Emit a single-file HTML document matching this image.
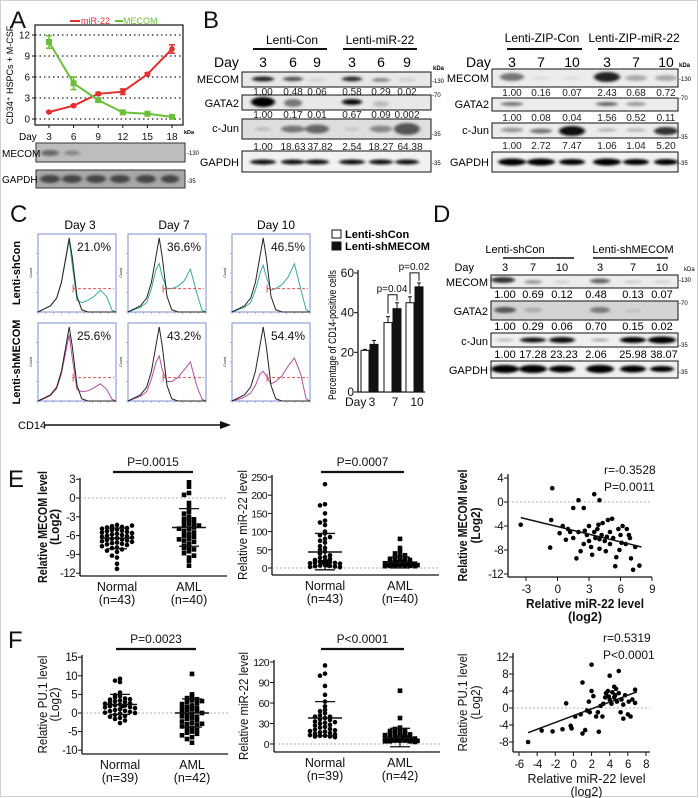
<!DOCTYPE html>
<html><head><meta charset="utf-8">
<style>
html,body{margin:0;padding:0;background:#fff;}
svg{display:block;font-family:"Liberation Sans",Arial,sans-serif;}
.val{font-size:10px;fill:#222;}
.pl{font-size:24px;fill:#111;}
</style></head>
<body>
<svg id="fig" width="699" height="798" viewBox="0 0 699 798" xmlns="http://www.w3.org/2000/svg">
<defs>
<filter id="bl" x="-30%" y="-100%" width="160%" height="300%"><feGaussianBlur stdDeviation="1.6 1.2"/></filter>
</defs>
<rect x="0.5" y="0.5" width="697" height="796" fill="#fff" stroke="#d0d0d0"/>

<text class="pl" x="10" y="28">A</text>
<text class="pl" x="203" y="28">B</text>
<text class="pl" x="10" y="222">C</text>
<text class="pl" x="433" y="222">D</text>
<text class="pl" x="8" y="487">E</text>
<text class="pl" x="8" y="648">F</text>

<g>
<line x1="70" y1="21" x2="80" y2="21" stroke="#e03030" stroke-width="2"/>
<text x="81" y="24" font-size="9" fill="#e03030">miR-22</text>
<line x1="115" y1="21" x2="123" y2="21" stroke="#6cbf3a" stroke-width="2"/>
<text x="123" y="24" font-size="9" fill="#6cbf3a">MECOM</text>
<rect x="35" y="25" width="148" height="100" fill="none" stroke="#111" stroke-width="1.2"/>
<text x="13" y="75" font-size="9" text-anchor="middle" transform="rotate(-90 13 75)">CD34⁺ HSPCs + M-CSF</text>
<text x="19" y="140" font-size="10">Day</text>
<text x="184" y="134" font-size="5.5" font-weight="bold">kDa</text>
<rect x="36" y="143" width="149" height="19" fill="#bdbdbd" stroke="#333"/>
<ellipse cx="50" cy="153" rx="9" ry="3" fill="#666" filter="url(#bl)"/>
<ellipse cx="72" cy="153" rx="8" ry="2.5" fill="#888" filter="url(#bl)"/>
<text x="2" y="157" font-size="10">MECOM</text>
<text x="187" y="155" font-size="6">-130</text>
<rect x="36" y="170" width="149" height="18" fill="#a8a8a8" stroke="#333"/>
<g filter="url(#bl)" fill="#444"><ellipse cx="50" cy="179" rx="10" ry="4"/><ellipse cx="72" cy="179" rx="10" ry="4"/><ellipse cx="96" cy="179" rx="10" ry="4"/><ellipse cx="120" cy="179" rx="10" ry="4"/><ellipse cx="146" cy="179" rx="10" ry="4"/><ellipse cx="170" cy="179" rx="9" ry="4"/></g>
<text x="2" y="183" font-size="10">GAPDH</text>
<text x="187" y="183" font-size="6">-35</text>
</g>

<g font-size="11">
<text x="292" y="44" text-anchor="middle" font-size="12">Lenti-Con</text>
<line x1="253" y1="49" x2="327" y2="49" stroke="#111" stroke-width="2"/>
<text x="380" y="44" text-anchor="middle" font-size="12">Lenti-miR-22</text>
<line x1="343" y1="49" x2="417" y2="49" stroke="#111" stroke-width="2"/>
<text x="214" y="67" font-size="14">Day</text>
<g font-size="14" text-anchor="middle"><text x="263" y="67">3</text><text x="293" y="67">6</text><text x="317" y="67">9</text><text x="352" y="67">3</text><text x="381" y="67">6</text><text x="407" y="67">9</text></g>
<g text-anchor="end" font-size="11"><text x="239" y="83">MECOM</text><text x="239" y="107">GATA2</text><text x="239" y="132">c-Jun</text><text x="239" y="166">GAPDH</text></g>
<rect x="242" y="72" width="189" height="15" fill="#e8e8e8" stroke="#111"/>
<g filter="url(#bl)"><ellipse cx="263" cy="79" rx="11" ry="2.5" fill="#222"/><ellipse cx="293" cy="79" rx="10" ry="2.3" fill="#555"/><ellipse cx="317" cy="80" rx="9" ry="2" fill="#d5d5d5"/><ellipse cx="352" cy="79" rx="10" ry="2.5" fill="#333"/><ellipse cx="381" cy="80" rx="9" ry="2" fill="#888"/><ellipse cx="407" cy="80" rx="9" ry="2" fill="#d0d0d0"/></g>
<g class="val" text-anchor="middle"><text x="263" y="95">1.00</text><text x="293" y="95">0.48</text><text x="317" y="95">0.06</text><text x="352" y="95">0.58</text><text x="381" y="95">0.29</text><text x="407" y="95">0.02</text></g>
<rect x="242" y="95" width="189" height="15" fill="#e8e8e8" stroke="#111"/>
<g filter="url(#bl)"><ellipse cx="263" cy="102" rx="12" ry="5" fill="#000"/><ellipse cx="293" cy="103" rx="9" ry="4" fill="#777"/><ellipse cx="352" cy="102" rx="10" ry="3" fill="#111"/><ellipse cx="381" cy="104" rx="8" ry="3" fill="#bbb"/></g>
<g class="val" text-anchor="middle"><text x="263" y="118">1.00</text><text x="293" y="118">0.17</text><text x="317" y="118">0.01</text><text x="352" y="118">0.67</text><text x="381" y="118">0.09</text><text x="407" y="118">0.002</text></g>
<rect x="242" y="119" width="189" height="20" fill="#dedede" stroke="#111"/>
<g filter="url(#bl)"><ellipse cx="263" cy="129" rx="8" ry="2" fill="#bbb"/><ellipse cx="293" cy="129" rx="12" ry="3.5" fill="#777"/><ellipse cx="317" cy="129" rx="12" ry="4.5" fill="#666"/><ellipse cx="352" cy="129" rx="8" ry="2" fill="#c8c8c8"/><ellipse cx="381" cy="129" rx="11" ry="3.5" fill="#888"/><ellipse cx="407" cy="129" rx="13" ry="6" fill="#555"/></g>
<g class="val" text-anchor="middle"><text x="263" y="150">1.00</text><text x="293" y="150">18.63</text><text x="320" y="150">37.82</text><text x="352" y="150">2.54</text><text x="381" y="150">18.27</text><text x="410" y="150">64.38</text></g>
<rect x="242" y="151" width="189" height="21" fill="#f2f2f2" stroke="#111"/>
<g filter="url(#bl)" fill="#111"><ellipse cx="263" cy="162" rx="13" ry="2.5"/><ellipse cx="293" cy="162" rx="12" ry="2.5"/><ellipse cx="317" cy="162" rx="12" ry="2.5"/><ellipse cx="352" cy="162" rx="13" ry="2.5"/><ellipse cx="381" cy="162" rx="12" ry="2.5"/><ellipse cx="407" cy="162" rx="12" ry="2.5"/></g>
<g font-size="6"><text x="433" y="70" font-weight="bold">kDa</text><text x="432" y="83">-130</text><text x="432" y="97">-70</text><text x="432" y="136">-35</text><text x="432" y="165">-35</text></g>

<text x="542" y="42" text-anchor="middle" font-size="12">Lenti-ZIP-Con</text>
<line x1="507" y1="49" x2="582" y2="49" stroke="#111" stroke-width="2"/>
<text x="634" y="42" text-anchor="middle" font-size="12">Lenti-ZIP-miR-22</text>
<line x1="598" y1="49" x2="672" y2="49" stroke="#111" stroke-width="2"/>
<text x="466" y="67" font-size="14">Day</text>
<g font-size="14" text-anchor="middle"><text x="512" y="67">3</text><text x="541" y="67">7</text><text x="572" y="67">10</text><text x="607" y="67">3</text><text x="636" y="67">7</text><text x="666" y="67">10</text></g>
<g text-anchor="end" font-size="11"><text x="489" y="82">MECOM</text><text x="489" y="108">GATA2</text><text x="489" y="134">c-Jun</text><text x="489" y="166">GAPDH</text></g>
<rect x="492" y="69" width="186" height="18" fill="#ececec" stroke="#111"/>
<g filter="url(#bl)"><ellipse cx="512" cy="77" rx="12" ry="4" fill="#777"/><ellipse cx="541" cy="78" rx="9" ry="2" fill="#ddd"/><ellipse cx="572" cy="78" rx="9" ry="2" fill="#ddd"/><ellipse cx="607" cy="77" rx="13" ry="5" fill="#222"/><ellipse cx="636" cy="78" rx="11" ry="3" fill="#aaa"/><ellipse cx="666" cy="78" rx="11" ry="3" fill="#aaa"/></g>
<g class="val" text-anchor="middle"><text x="512" y="96">1.00</text><text x="541" y="96">0.16</text><text x="572" y="96">0.07</text><text x="607" y="96">2.43</text><text x="636" y="96">0.68</text><text x="666" y="96">0.72</text></g>
<rect x="492" y="98" width="186" height="13" fill="#ececec" stroke="#111"/>
<g filter="url(#bl)"><ellipse cx="512" cy="104" rx="11" ry="2" fill="#777"/><ellipse cx="607" cy="104" rx="11" ry="2" fill="#666"/><ellipse cx="636" cy="104" rx="10" ry="2" fill="#999"/></g>
<g class="val" text-anchor="middle"><text x="512" y="121">1.00</text><text x="541" y="121">0.08</text><text x="572" y="121">0.04</text><text x="607" y="121">1.56</text><text x="636" y="121">0.52</text><text x="666" y="121">0.11</text></g>
<rect x="492" y="123" width="186" height="15" fill="#ececec" stroke="#111"/>
<g filter="url(#bl)"><ellipse cx="512" cy="130" rx="11" ry="2.5" fill="#999"/><ellipse cx="541" cy="131" rx="11" ry="2.5" fill="#777"/><ellipse cx="572" cy="131" rx="13" ry="5" fill="#111"/><ellipse cx="607" cy="130" rx="10" ry="2" fill="#bbb"/><ellipse cx="636" cy="130" rx="10" ry="2" fill="#bbb"/><ellipse cx="666" cy="131" rx="12" ry="4" fill="#333"/></g>
<g class="val" text-anchor="middle"><text x="512" y="149">1.00</text><text x="541" y="149">2.72</text><text x="572" y="149">7.47</text><text x="607" y="149">1.06</text><text x="636" y="149">1.04</text><text x="666" y="149">5.20</text></g>
<rect x="492" y="152" width="186" height="20" fill="#f2f2f2" stroke="#111"/>
<g filter="url(#bl)" fill="#000"><ellipse cx="512" cy="162" rx="14" ry="3.5"/><ellipse cx="541" cy="162" rx="14" ry="3.5"/><ellipse cx="572" cy="162" rx="13" ry="3"/><ellipse cx="607" cy="162" rx="14" ry="3.5"/><ellipse cx="636" cy="162" rx="13" ry="3"/><ellipse cx="666" cy="162" rx="12" ry="3"/></g>
<g font-size="6"><text x="679" y="67" font-weight="bold">kDa</text><text x="679" y="81">-130</text><text x="679" y="100">-70</text><text x="679" y="139">-35</text><text x="679" y="165">-35</text></g>
</g>

<g>
<g font-size="12" text-anchor="middle"><text x="80" y="229">Day 3</text><text x="174" y="229">Day 7</text><text x="276" y="229">Day 10</text></g>
<text x="20" y="273" font-size="11" font-weight="bold" text-anchor="middle" transform="rotate(-90 20 273)">Lenti-shCon</text>
<text x="20" y="362" font-size="11" font-weight="bold" text-anchor="middle" transform="rotate(-90 20 362)">Lenti-shMECOM</text>
<text x="18" y="429" font-size="11">CD14</text>
<line x1="44" y1="425" x2="222" y2="425" stroke="#111" stroke-width="1.5"/>
<polygon points="220,421 231,425 220,429" fill="#111"/>
<rect x="332" y="230" width="9" height="8" fill="#fff" stroke="#111"/>
<text x="345" y="238" font-size="11" font-weight="bold">Lenti-shCon</text>
<rect x="332" y="242" width="9" height="8" fill="#111" stroke="#111"/>
<text x="345" y="250" font-size="11" font-weight="bold">Lenti-shMECOM</text>
<text x="336" y="335" font-size="11" text-anchor="middle" textLength="130" lengthAdjust="spacingAndGlyphs" transform="rotate(-90 336 335)">Percentage of CD14-positive cells</text>
</g>

<g>
<text x="515" y="253" text-anchor="middle" font-size="11">Lenti-shCon</text>
<line x1="503" y1="258" x2="574" y2="258" stroke="#111" stroke-width="1.6"/>
<text x="633" y="253" text-anchor="middle" font-size="11">Lenti-shMECOM</text>
<line x1="593" y1="258" x2="668" y2="258" stroke="#111" stroke-width="1.6"/>
<text x="474" y="271" font-size="11" text-anchor="end">Day</text>
<g font-size="11" text-anchor="middle"><text x="505" y="271">3</text><text x="533" y="271">7</text><text x="562" y="271">10</text><text x="600" y="271">3</text><text x="633" y="271">7</text><text x="662" y="271">10</text></g>
<g text-anchor="end" font-size="11"><text x="488" y="286">MECOM</text><text x="488" y="315">GATA2</text><text x="488" y="345">c-Jun</text><text x="488" y="374">GAPDH</text></g>
<rect x="491" y="275" width="187" height="13" fill="#ececec" stroke="#111"/>
<g filter="url(#bl)"><ellipse cx="503" cy="280" rx="12" ry="3" fill="#333"/><ellipse cx="533" cy="282" rx="9" ry="2" fill="#999"/><ellipse cx="562" cy="282" rx="8" ry="1.5" fill="#ccc"/><ellipse cx="600" cy="281" rx="10" ry="2.5" fill="#666"/><ellipse cx="633" cy="282" rx="9" ry="1.5" fill="#ccc"/><ellipse cx="662" cy="282" rx="9" ry="1.5" fill="#d0d0d0"/></g>
<g font-size="11" text-anchor="middle"><text x="505" y="298">1.00</text><text x="533" y="298">0.69</text><text x="562" y="298">0.12</text><text x="596" y="298">0.48</text><text x="633" y="298">0.13</text><text x="662" y="298">0.07</text></g>
<rect x="491" y="301" width="187" height="19" fill="#d4d4d4" stroke="#111"/>
<g filter="url(#bl)"><ellipse cx="505" cy="310" rx="11" ry="3" fill="#555"/><ellipse cx="533" cy="310" rx="9" ry="2.5" fill="#aaa"/><ellipse cx="600" cy="310" rx="10" ry="3" fill="#777"/><ellipse cx="633" cy="311" rx="8" ry="2" fill="#c0c0c0"/></g>
<g font-size="11" text-anchor="middle"><text x="505" y="330">1.00</text><text x="533" y="330">0.29</text><text x="562" y="330">0.06</text><text x="596" y="330">0.70</text><text x="633" y="330">0.15</text><text x="662" y="330">0.02</text></g>
<rect x="491" y="333" width="187" height="14" fill="#f0f0f0" stroke="#111"/>
<g filter="url(#bl)"><ellipse cx="505" cy="340" rx="9" ry="1.5" fill="#bbb"/><ellipse cx="533" cy="340" rx="13" ry="2.5" fill="#111"/><ellipse cx="562" cy="340" rx="13" ry="3" fill="#111"/><ellipse cx="600" cy="340" rx="9" ry="1.5" fill="#aaa"/><ellipse cx="633" cy="340" rx="13" ry="3" fill="#000"/><ellipse cx="662" cy="340" rx="14" ry="3.5" fill="#000"/></g>
<g font-size="11" text-anchor="middle"><text x="505" y="358">1.00</text><text x="533" y="358">17.28</text><text x="564" y="358">23.23</text><text x="596" y="358">2.06</text><text x="633" y="358">25.98</text><text x="664" y="358">38.07</text></g>
<rect x="491" y="361" width="187" height="17" fill="#f0f0f0" stroke="#111"/>
<g filter="url(#bl)" fill="#000"><ellipse cx="505" cy="369" rx="14" ry="4"/><ellipse cx="533" cy="369" rx="14" ry="4"/><ellipse cx="562" cy="369" rx="13" ry="3.5"/><ellipse cx="600" cy="369" rx="14" ry="4"/><ellipse cx="633" cy="369" rx="13" ry="3.5"/><ellipse cx="662" cy="369" rx="12" ry="3"/></g>
<g font-size="6"><text x="684" y="271">kDa</text><text x="679" y="282">-130</text><text x="679" y="305">-70</text><text x="679" y="347">-35</text><text x="679" y="374">-35</text></g>
</g>
</svg>

<script>
// ===== Panel A data =====
const aDays = [3, 6, 9, 12, 15, 18];
const aMir22 = [1.0, 1.9, 3.6, 3.9, 6.4, 10.0];
const aMir22Err = [0.1, 0.15, 0.2, 0.4, 0.2, 0.6];
const aMecom = [11.0, 5.1, 2.7, 0.95, 0.75, 0.3];
const aMecomErr = [0.9, 0.9, 0.2, 0.1, 0.1, 0.1];
const aYTicks = [0, 3, 6, 9, 12];

// ===== Panel C bar data =====
const cDays = ['3', '7', '10'];
const cCon = [21, 35, 45];
const cConErr = [0.5, 3, 3];
const cSh = [24, 42, 53];
const cShErr = [2, 3, 2];
const cYTicks = [0, 20, 40, 60];
const cPvals = ['p=0.04', 'p=0.02'];

// ===== Panel C histogram data =====
const histX = [0,0.08,0.16,0.24,0.3,0.36,0.4,0.44,0.5,0.56,0.64,0.72,0.8,0.88,0.95,1];
const histCtrl = [0,0.04,0.08,0.18,0.38,0.72,0.95,0.7,0.2,0.03,0,0,0,0,0,0];
const histCon1 = [0,0.04,0.08,0.18,0.38,0.7,0.92,0.6,0.15,0.12,0.15,0.2,0.28,0.2,0.02,0];
const histCon2 = [0,0.03,0.06,0.12,0.3,0.55,0.62,0.45,0.3,0.3,0.33,0.4,0.55,0.25,0.02,0];
const histCon3 = [0,0.03,0.06,0.12,0.28,0.5,0.6,0.45,0.28,0.3,0.35,0.45,0.62,0.3,0.03,0];
const histSh1 = [0,0.03,0.07,0.16,0.35,0.65,0.85,0.55,0.15,0.12,0.13,0.17,0.22,0.15,0.02,0];
const histSh2 = [0,0.03,0.06,0.12,0.28,0.5,0.58,0.4,0.25,0.25,0.3,0.4,0.5,0.2,0.02,0];
const histSh3 = [0,0.02,0.05,0.1,0.2,0.35,0.38,0.32,0.22,0.25,0.32,0.45,0.55,0.35,0.03,0];
const histPct = ['21.0%','36.6%','46.5%','25.6%','43.2%','54.4%'];

// ===== Panel E data =====
const e1Cats = ['Normal', 'AML'];
const e1N = ['(n=43)', '(n=40)'];
const e1Normal = [-4.3,-4.5,-4.6,-4.7,-4.8,-4.9,-5.0,-5.1,-5.2,-5.3,-5.4,-5.5,-5.6,-5.7,-5.8,-5.9,-6.0,-6.1,-6.2,-6.3,-6.4,-6.5,-6.6,-6.7,-6.8,-6.9,-7.0,-7.1,-7.2,-7.3,-7.4,-7.5,-7.7,-7.9,-8.0,-8.2,-8.4,-8.6,-9.2,-9.5,-4.4,-10.5,-11.3];
const e1AML = [2.5,1.8,0.8,0.5,-0.8,-1.5,-2.2,-2.5,-3.0,-3.3,-3.5,-3.8,-4.0,-4.2,-4.5,-4.7,-4.9,-5.0,-5.3,-5.5,-5.8,-6.0,-6.2,-6.5,-6.8,-7.0,-7.3,-7.6,-7.8,-8.0,-8.2,-8.5,-8.8,-9.2,-9.5,-10.0,-10.8,-4.4,-3.4,-6.6];
const e1Mean = [-6.4, -4.7];
const e1Hi = [-4.8, -1.7];
const e1Lo = [-8.1, -7.7];
const e1Ticks = [3, 0, -3, -6, -9, -12];

const e2Normal = [230,175,172,150,130,125,118,100,95,90,85,80,75,70,60,55,50,45,40,35,30,28,25,22,20,18,17,15,14,13,12,11,10,9,8,7,6,5,4,3,2,1,0.5];
const e2AML = [80,55,45,40,35,32,30,28,25,22,20,18,16,15,14,13,12,11,10,9,8,7,7,6,6,5,5,4,4,3,3,2,2,2,1,1,1,0.5,0.5,0.3];
const e2Mean = [44, 15];
const e2Hi = [95, 30];
const e2Lo = [-5, 0];
const e2Ticks = [0, 50, 100, 150, 200, 250];

const e3X = [-3.5,-0.5,-0.7,-0.6,1.5,2,2.5,3.5,4,0.5,1,1.2,1.5,1.8,2,2.2,2.5,2.8,3,3,3.2,3.3,3.5,3.6,3.8,4,4,4.2,4.3,4.5,4.6,4.8,5,5,5.2,5.3,5.5,5.6,5.8,6,6.1,6.2,6.5,6.8,7,7.2,7.4,7.8,6.6,0.2,0.8,2.6,3.9,4.7,5.9,6.9];
const e3Y = [-3.8,2.3,-7.6,-3,-1,0.3,-1,1.3,0.3,-4,-4.5,-5,-6,-9.4,-5,-8.2,-7,-5.5,-4,-6.5,-7.5,-8.8,-5,-6,-4.5,-6.2,-7.8,-5.5,-3.5,-6.5,-8.2,-3,-5,-7,-2.8,-6,-10.7,-9.2,-4.5,-5.5,-6.8,-4,-7,-5.5,-9.4,-11.3,-7.5,-10.6,-4.5,-5.2,-6.3,-4.8,-3.8,-5.8,-8,-6];
const e3FitX = [-3.5, 8];
const e3FitY = [-2.6, -7.5];
const e3XTicks = [-3, 0, 3, 6, 9];
const e3YTicks = [4, 0, -4, -8, -12];

// ===== Panel F data =====
const f1N = ['(n=39)', '(n=42)'];
const f1Normal = [9.2,8.7,8.3,5.5,4.8,4.5,4.2,3.9,3.6,3.4,3.2,3,2.8,2.6,2.5,2.3,2.1,2,1.8,1.6,1.5,1.3,1.2,1,0.8,0.6,0.5,0.3,0.1,0,-0.2,-0.5,-0.8,-1,-1.3,-1.6,-2,-2.7,3.7];
const f1AML = [10.5,5,4.5,4,3.7,3.4,3,2.7,2.4,2,1.7,1.4,1,0.8,0.5,0.2,0,-0.3,-0.6,-1,-1.3,-1.6,-2,-2.3,-2.6,-3,-3.3,-3.6,-4,-4.3,-4.6,-5,-5.3,-5.6,-6,-6.5,-7,-8,1.2,-0.9,-2.9,3.2];
const f1Mean = [2.3, 0];
const f1Hi = [5, 3.8];
const f1Lo = [-0.4, -3.8];
const f1Ticks = [15, 10, 5, 0, -5, -10];

const f2Normal = [115,103,100,85,72,62,55,50,48,45,42,40,38,36,35,33,31,30,28,27,25,24,22,21,20,19,18,17,16,15,14,13,12,12,11,11,10,40,32];
const f2AML = [78,38,24,22,20,19,18,17,16,15,14,13,12,11,10,9,9,8,8,7,7,6,6,5,5,5,4,4,4,3,3,3,2,2,2,1,1,1,0.5,0.5,0.3,0.2];
const f2Mean = [38, 9];
const f2Hi = [62, 23];
const f2Lo = [12, -4];
const f2Ticks = [0, 30, 60, 90, 120];

const f3X = [-5,-3.5,-2.3,-1.2,-0.8,-0.3,-0.2,0.2,0.8,1,1,1.3,1.5,1.7,1.8,2,2,2.2,2.5,2.7,2.8,3,3.2,3.3,3.5,3.6,3.8,4,4,4.2,4.3,4.5,4.5,4.7,4.8,5,5,5.2,5.3,5.5,5.7,6,6.1,6.3,6.5,6.8,6.8,4.6,3.9,5.5];
const f3Y = [-8,-5.3,-5.5,-5,1.1,-4.2,-4.8,-2,-1.5,6,-6,-5.2,-0.6,1.5,-1,10.2,4,2.8,-2,-1,-5.6,0.5,-2,1,2.5,3.5,4,7.6,2,1,3.7,5,2.5,4.5,1.5,8.7,3.5,-1,2,-2.5,3,-1.5,1.5,-2,2,4.3,1.2,3,2.7,0.8];
const f3FitX = [-5, 7];
const f3FitY = [-5.8, 3.8];
const f3XTicks = [-6, -4, -2, 0, 2, 4, 6, 8];
const f3YTicks = [12, 8, 4, 0, -4, -8];

const NS = 'http://www.w3.org/2000/svg';
const svg = document.getElementById('fig');
function mk(tag, attrs, parent) {
  const e = document.createElementNS(NS, tag);
  for (const k in attrs) e.setAttribute(k, attrs[k]);
  (parent || svg).appendChild(e);
  return e;
}
function txt(x, y, s, size, anchor, parent, extra) {
  const t = mk('text', Object.assign({x: x, y: y, 'font-size': size, 'text-anchor': anchor || 'start', fill: '#111'}, extra || {}), parent);
  t.textContent = s;
  return t;
}

// ===== Panel A chart =====
(function(){
  const ax = d => 49 + (d - 3) * (123 / 15);
  const ay = v => 119 - v * 7;
  const g = mk('g', {});
  
  
  aYTicks.forEach(v => {
    const gl = mk('line', {x1: 35, x2: 183, y1: ay(v), y2: ay(v), stroke: '#222', 'stroke-dasharray': '1.5 3', 'stroke-width': 1.2}, g);
    
    
    mk('line', {x1: 32, x2: 35, y1: ay(v), y2: ay(v), stroke: '#111'}, g);
    const t = txt(30, ay(v) + 3.5, String(v), 10, 'end', g);
    
    
  });
  aDays.forEach(d => {
    mk('line', {x1: ax(d), x2: ax(d), y1: 125, y2: 128, stroke: '#111'}, g);
    const t = txt(ax(d), 140, String(d), 10, 'middle', g);
    
    
  });
  [[aMir22, aMir22Err, '#e03030', 'mir22'], [aMecom, aMecomErr, '#6cbf3a', 'mecom']].forEach(s => {
    const pts = aDays.map((d, i) => ax(d) + ',' + ay(s[0][i])).join(' ');
    const pl = mk('polyline', {points: pts, fill: 'none', stroke: s[2], 'stroke-width': 2}, g);
    
    
    aDays.forEach((d, i) => {
      const x = ax(d), v = s[0][i], e = s[1][i];
      mk('line', {x1: x, x2: x, y1: ay(v - e), y2: ay(v + e), stroke: s[2], 'stroke-width': 1.5}, g);
      mk('line', {x1: x - 3, x2: x + 3, y1: ay(v + e), y2: ay(v + e), stroke: s[2], 'stroke-width': 1.5}, g);
      mk('line', {x1: x - 3, x2: x + 3, y1: ay(v - e), y2: ay(v - e), stroke: s[2], 'stroke-width': 1.5}, g);
      const m = s[3] === 'mir22' ? mk('circle', {cx: x, cy: ay(v), r: 2.8, fill: s[2]}, g) : mk('rect', {x: x - 3, y: ay(v) - 3, width: 6, height: 6, fill: s[2]}, g);
      
      
    });
  });
})();

// ===== Panel C histograms =====
(function(){
  const cols = [38, 128, 232], rows = [234, 323], W = 78, H = 78;
  const sets = [[histCon1, histCon2, histCon3], [histSh1, histSh2, histSh3]];
  const colors = ['#3aa89a', '#b0509a'];
  rows.forEach((ry, r) => cols.forEach((cx, c) => {
    const g = mk('g', {});
    
    
    mk('rect', {x: cx, y: ry, width: W, height: H, fill: '#fff', stroke: '#7f8fd0', 'stroke-width': 1}, g);
    for (let k = 0; k <= 10; k++) {
      mk('line', {x1: cx + k * W / 10, x2: cx + k * W / 10, y1: ry + H, y2: ry + H + 2, stroke: '#7f8fd0', 'stroke-width': 0.6}, g);
    }
    [0, 0.25, 0.5, 0.75].forEach(f => mk('line', {x1: cx - 2, x2: cx, y1: ry + H - f * H, y2: ry + H - f * H, stroke: '#7f8fd0', 'stroke-width': 0.6}, g));
    txt(cx - 6, ry + H / 2, 'Count', 3.5, 'middle', g, {transform: 'rotate(-90 ' + (cx - 6) + ' ' + (ry + H / 2) + ')'});
    const path = arr => histX.map((f, i) => (i ? 'L' : 'M') + (cx + f * W).toFixed(1) + ' ' + (ry + H - arr[i] * H).toFixed(1)).join(' ');
    const p1 = mk('path', {d: path(sets[r][c]), fill: 'none', stroke: colors[r], 'stroke-width': 1}, g);
    
    
    const p0 = mk('path', {d: path(histCtrl), fill: 'none', stroke: '#222', 'stroke-width': 1}, g);
    
    
    const gy = ry + H * 0.7;
    mk('line', {x1: cx + W * 0.45, x2: cx + W - 2, y1: gy, y2: gy, stroke: '#e05050', 'stroke-dasharray': '3 2'}, g);
    mk('line', {x1: cx + W * 0.45, x2: cx + W * 0.45, y1: gy - 4, y2: gy + 4, stroke: '#e05050'}, g);
    const t = txt(cx + W - 5, ry + 17, histPct[r * 3 + c], 12, 'end', g);
    
    
  }));
})();

// ===== Panel C bar chart =====
(function(){
  const by = v => 392 - v * (119 / 60);
  const gx = [369, 392, 414];
  const g = mk('g', {});
  
  
  mk('line', {x1: 358, x2: 358, y1: 270, y2: 392, stroke: '#111', 'stroke-width': 1.3}, g);
  mk('line', {x1: 358, x2: 425, y1: 392, y2: 392, stroke: '#111', 'stroke-width': 1.3}, g);
  cYTicks.forEach(v => {
    mk('line', {x1: 354, x2: 358, y1: by(v), y2: by(v), stroke: '#111'}, g);
    const t = txt(354, by(v) + 4, String(v), 12, 'end', g);
    
    
  });
  txt(345, 406, 'Day', 12, 'start', g);
  cDays.forEach((d, i) => {
    const t = txt(gx[i] + 3, 406, d, 12, 'middle', g);
    
    
    [[cCon, cConErr, '#fff', -8], [cSh, cShErr, '#111', 1]].forEach(s => {
      const x = gx[i] + s[3], v = s[0][i], e = s[1][i];
      mk('line', {x1: x + 4, x2: x + 4, y1: by(v), y2: by(v + e), stroke: '#111'}, g);
      mk('line', {x1: x + 2, x2: x + 6, y1: by(v + e), y2: by(v + e), stroke: '#111'}, g);
      const b = mk('rect', {x: x, y: by(v), width: 8, height: 392 - by(v), fill: s[2], stroke: '#111', 'stroke-width': 1}, g);
      
      
    });
  });
  [[1, 'p=0.04'], [2, 'p=0.02']].forEach((p, k) => {
    const i = p[0];
    const top = by(Math.max(cCon[i] + cConErr[i], cSh[i] + cShErr[i])) - 8 - k * 2;
    mk('polyline', {points: (gx[i] - 4) + ',' + (by(cCon[i] + cConErr[i]) - 3) + ' ' + (gx[i] - 4) + ',' + top + ' ' + (gx[i] + 5) + ',' + top + ' ' + (gx[i] + 5) + ',' + (by(cSh[i] + cShErr[i]) - 2), fill: 'none', stroke: '#111'}, g);
    const t = txt(gx[i], top - 3, cPvals[k], 10, 'middle', g);
    
    
  });
})();

// ===== Dot plots =====
function dotPlot(cfg) {
  const g = mk('g', {});
  
  
  const y = cfg.y;
  mk('line', {x1: cfg.ax, x2: cfg.ax, y1: cfg.top, y2: cfg.bottom, stroke: '#111', 'stroke-width': 1.3}, g);
  mk('line', {x1: cfg.ax, x2: cfg.xEnd, y1: cfg.bottom, y2: cfg.bottom, stroke: '#111', 'stroke-width': 1.3}, g);
  cfg.ticks.forEach(v => {
    mk('line', {x1: cfg.ax - 4, x2: cfg.ax, y1: y(v), y2: y(v), stroke: '#111'}, g);
    const t = txt(cfg.ax - 5, y(v) + 4, String(v), cfg.tf || 11.5, 'end', g, {'letter-spacing': '-0.6'});
    
    
  });
  mk('line', {x1: cfg.ax, x2: cfg.xEnd, y1: y(0), y2: y(0), stroke: '#999', 'stroke-dasharray': '2 2', 'stroke-width': 0.8}, g);
  [cfg.a, cfg.b].forEach((vals, ci) => {
    const cx = cfg.cats[ci];
    const bins = {};
    vals.forEach(v => {
      let py = y(v);
      const key = Math.round(py / 4.5);
      const n = bins[key] = (bins[key] || 0) + 1;
      const ring = Math.floor(n / 2);
      const k = ring % 4;
      const layer = Math.floor(ring / 4);
      const off = (n % 2 ? 1 : -1) * k * 5 + (layer % 2 ? 2.5 : 0);
      py -= layer * 2.5;
      const px = cx + off;
      let m;
      if (ci === 0) m = mk('circle', {cx: px, cy: py, r: 2.3, fill: '#000'}, g);
      else m = mk('rect', {x: px - 2.3, y: py - 2.3, width: 4.6, height: 4.6, fill: '#000'}, g);
      
      
    });
    const ml = mk('line', {x1: cx - 17, x2: cx + 17, y1: y(cfg.mean[ci]), y2: y(cfg.mean[ci]), stroke: '#111', 'stroke-width': 1.5}, g);
    
    
    mk('line', {x1: cx, x2: cx, y1: y(cfg.hi[ci]), y2: y(cfg.lo[ci]), stroke: '#111', 'stroke-width': 1.2}, g);
    mk('line', {x1: cx - 10, x2: cx + 10, y1: y(cfg.hi[ci]), y2: y(cfg.hi[ci]), stroke: '#111', 'stroke-width': 1.3}, g);
    mk('line', {x1: cx - 10, x2: cx + 10, y1: y(cfg.lo[ci]), y2: y(cfg.lo[ci]), stroke: '#111', 'stroke-width': 1.3}, g);
    const t1 = txt(cx, cfg.bottom + 15, e1Cats[ci], 12.5, 'middle', g);
    
    
    txt(cx, cfg.bottom + 28, cfg.n[ci], 12.5, 'middle', g);
  });
  mk('line', {x1: cfg.cats[0] - 4, x2: cfg.cats[1] + 4, y1: cfg.pY, y2: cfg.pY, stroke: '#111', 'stroke-width': 2.2}, g);
  const pt = txt((cfg.cats[0] + cfg.cats[1]) / 2, cfg.pY - 6, cfg.p, 12, 'middle', g);
  
  
  cfg.titles.forEach((s, k) => {
    const tx = cfg.tx + k * 12, ty = (cfg.top + cfg.bottom) / 2;
    const t = txt(tx, ty, s, 12.5, 'middle', g, {transform: 'rotate(-90 ' + tx + ' ' + ty + ')', 'font-weight': cfg.bold ? 'bold' : 'normal', textLength: cfg.tl[k], lengthAdjust: 'spacingAndGlyphs'});
    
    
  });
}
dotPlot({name: 'e1-mecom-dotplot', ax: 80, xEnd: 227, top: 478, bottom: 576, y: v => 498 - v * 6.267, ticks: e1Ticks, a: e1Normal, b: e1AML, mean: e1Mean, hi: e1Hi, lo: e1Lo, cats: [117, 189], n: e1N, pY: 472, p: 'P=0.0015', titles: ['Relative MECOM level', '(Log2)'], tl: [112, 36], tx: 47, bold: true});
dotPlot({name: 'e2-mir22-dotplot', ax: 272, xEnd: 439, top: 475, bottom: 575, y: v => 568 - v * 0.364, ticks: e2Ticks, tf: 10.5, a: e2Normal, b: e2AML, mean: e2Mean, hi: e2Hi, lo: e2Lo, cats: [325, 400], n: e1N, pY: 472, p: 'P=0.0007', titles: ['Relative miR-22 level'], tl: [110], tx: 247, bold: false});
dotPlot({name: 'f1-pu1-dotplot', ax: 82, xEnd: 228, top: 655, bottom: 754, y: v => 713 - v * 3.72, ticks: f1Ticks, a: f1Normal, b: f1AML, mean: f1Mean, hi: f1Hi, lo: f1Lo, cats: [120, 192], n: f1N, pY: 649, p: 'P=0.0023', titles: ['Relative PU.1 level', '(Log2)'], tl: [98, 34], tx: 47, bold: false});
dotPlot({name: 'f2-mir22-dotplot', ax: 274, xEnd: 440, top: 660, bottom: 752, y: v => 744 - v * 0.683, ticks: f2Ticks, tf: 10.5, a: f2Normal, b: f2AML, mean: f2Mean, hi: f2Hi, lo: f2Lo, cats: [325, 400], n: f1N, pY: 649, p: 'P<0.0001', titles: ['Relative miR-22 level'], tl: [108], tx: 248, bold: false});

// ===== Scatter plots =====
function scatter(cfg) {
  const g = mk('g', {});
  
  
  const sx = cfg.sx, sy = cfg.sy;
  mk('line', {x1: cfg.ax, x2: cfg.ax, y1: cfg.top, y2: cfg.bottom, stroke: '#111', 'stroke-width': 1.3}, g);
  mk('line', {x1: cfg.ax, x2: cfg.xEnd, y1: cfg.bottom, y2: cfg.bottom, stroke: '#111', 'stroke-width': 1.3}, g);
  cfg.yt.forEach(v => {
    mk('line', {x1: cfg.ax - 4, x2: cfg.ax, y1: sy(v), y2: sy(v), stroke: '#111'}, g);
    const t = txt(cfg.ax - 5, sy(v) + 4, String(v), 11.5, 'end', g, {'letter-spacing': '-0.6'});
    
    
  });
  cfg.xt.forEach(v => {
    mk('line', {x1: sx(v), x2: sx(v), y1: cfg.bottom, y2: cfg.bottom + 4, stroke: '#111'}, g);
    const t = txt(sx(v), cfg.bottom + 16, String(v), 11.5, 'middle', g, {'letter-spacing': '-0.6'});
    
    
  });
  mk('line', {x1: cfg.ax, x2: cfg.xEnd, y1: sy(0), y2: sy(0), stroke: '#999', 'stroke-dasharray': '2 2', 'stroke-width': 0.8}, g);
  cfg.X.forEach((xv, i) => {
    const c = mk('circle', {cx: sx(xv), cy: sy(cfg.Y[i]), r: 2.3, fill: '#000'}, g);
    
    
  });
  const fl = mk('line', {x1: sx(cfg.fx[0]), y1: sy(cfg.fy[0]), x2: sx(cfg.fx[1]), y2: sy(cfg.fy[1]), stroke: '#111', 'stroke-width': 1.5}, g);
  
  
  const xc = (cfg.ax + cfg.xEnd) / 2 + 5;
  const xl = txt(xc, cfg.bottom + 31, 'Relative miR-22 level', 12.5, 'middle', g, {'font-weight': cfg.bold ? 'bold' : 'normal', textLength: 118, lengthAdjust: 'spacingAndGlyphs'});
  
  
  txt(xc, cfg.bottom + 44, '(log2)', 12.5, 'middle', g, {'font-weight': cfg.bold ? 'bold' : 'normal'});
  cfg.titles.forEach((s, k) => {
    const tx = cfg.tx + k * 13, ty = (cfg.top + cfg.bottom) / 2;
    const t = txt(tx, ty, s, 12.5, 'middle', g, {transform: 'rotate(-90 ' + tx + ' ' + ty + ')', 'font-weight': cfg.bold ? 'bold' : 'normal', textLength: cfg.tl[k], lengthAdjust: 'spacingAndGlyphs'});
    
    
  });
  const r = txt(cfg.sx0, cfg.sy0, cfg.r, 12, 'start', g);
  
  
  const p = txt(cfg.sx0, cfg.sy0 + 17, cfg.p, 12, 'start', g);
  
  
}
scatter({name: 'e3-correlation-scatter', ax: 508, xEnd: 652, top: 474, bottom: 577, sx: v => 526 + (v + 3) * 10.5, sy: v => 478 + (4 - v) * 6, xt: e3XTicks, yt: e3YTicks, X: e3X, Y: e3Y, fx: e3FitX, fy: e3FitY, titles: ['Relative MECOM level', '(Log2)'], tl: [112, 36], tx: 467, bold: true, r: 'r=-0.3528', p: 'P=0.0011', sx0: 604, sy0: 474});
scatter({name: 'f3-correlation-scatter', ax: 513, xEnd: 650, top: 653, bottom: 752, sx: v => 519 + (v + 6) * 9.07, sy: v => 657 + (12 - v) * 4.25, xt: f3XTicks, yt: f3YTicks, X: f3X, Y: f3Y, fx: f3FitX, fy: f3FitY, titles: ['Relative PU.1 level', '(Log2)'], tl: [98, 34], tx: 467, bold: false, r: 'r=0.5319', p: 'P<0.0001', sx0: 603, sy0: 642});
</script>
</body></html>
